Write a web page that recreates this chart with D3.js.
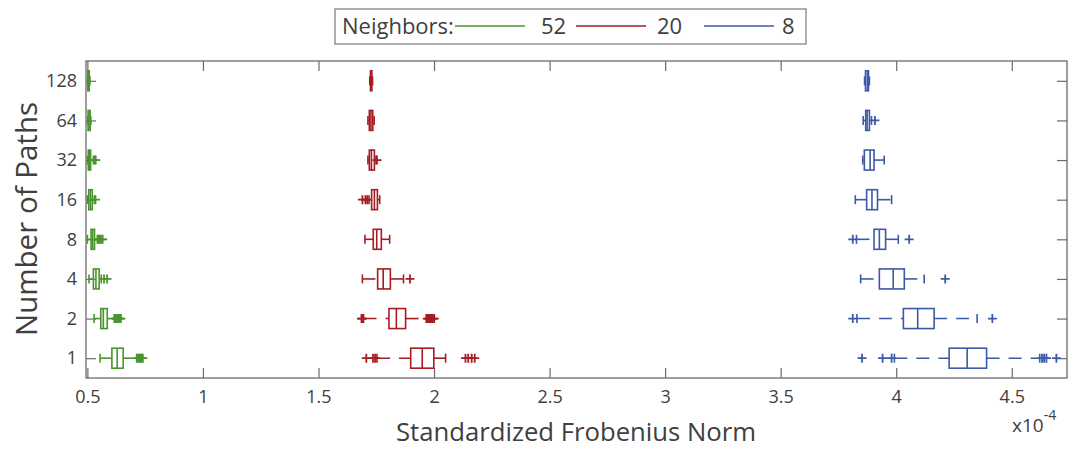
<!DOCTYPE html>
<html>
<head>
<meta charset="utf-8">
<script src="https://cdn.jsdelivr.net/npm/d3@7"></script>
<style>
  html, body { margin: 0; padding: 0; background: #fff; }
  svg { display: block; font-family: "Open Sans", "Noto Sans", sans-serif; }
  .axis text { fill: #404040; font-size: 18px; }
  .axis line { stroke: #6b6b6b; stroke-width: 1.2; }
</style>
</head>
<body>
<div id="chart"></div>
<script>
// Number of paths (rows, top to bottom)
const paths = [128, 64, 32, 16, 8, 4, 2, 1];
const neighbors = ["52", "20", "8"];
const xTicks = [0.5, 1, 1.5, 2, 2.5, 3, 3.5, 4, 4.5];

// [lower whisker, q1, median, q3, upper whisker] per row (x1e-4)
const stats52 = [
  [0.501, 0.502, 0.505, 0.508, 0.511],
  [0.501, 0.503, 0.507, 0.512, 0.515],
  [0.500, 0.504, 0.509, 0.514, 0.526],
  [0.500, 0.506, 0.513, 0.521, 0.530],
  [0.500, 0.516, 0.523, 0.531, 0.543],
  [0.507, 0.526, 0.537, 0.551, 0.560],
  [0.529, 0.558, 0.569, 0.586, 0.616],
  [0.555, 0.606, 0.629, 0.655, 0.713]
];
const outliers52 = [
  [], [], [0.532, 0.536], [0.535],
  [0.548, 0.553, 0.559, 0.566],
  [0.572, 0.585],
  [0.622, 0.626, 0.630, 0.634, 0.640, 0.645],
  [0.719, 0.724, 0.729, 0.734, 0.740]
];

const stats20 = [
  [1.722, 1.725, 1.728, 1.731, 1.734],
  [1.714, 1.720, 1.727, 1.735, 1.741],
  [1.714, 1.720, 1.729, 1.742, 1.749],
  [1.719, 1.730, 1.742, 1.755, 1.765],
  [1.701, 1.737, 1.752, 1.772, 1.808],
  [1.690, 1.756, 1.780, 1.811, 1.868],
  [1.695, 1.805, 1.837, 1.877, 1.966],
  [1.753, 1.899, 1.949, 1.999, 2.050]
];
const outliers20 = [
  [], [], [1.753],
  [1.690, 1.703, 1.711],
  [],
  [1.896],
  [1.686, 1.690, 1.971, 1.976, 1.981, 1.986, 1.990, 1.995, 2.001],
  [1.707, 1.736, 1.745, 2.136, 2.148, 2.163, 2.176]
];

const stats8 = [
  [3.863, 3.867, 3.875, 3.880, 3.884],
  [3.857, 3.868, 3.874, 3.884, 3.893],
  [3.855, 3.862, 3.887, 3.904, 3.948],
  [3.823, 3.872, 3.895, 3.919, 3.980],
  [3.828, 3.904, 3.927, 3.954, 4.009],
  [3.846, 3.927, 3.987, 4.035, 4.121],
  [3.830, 4.031, 4.093, 4.164, 4.350],
  [3.992, 4.229, 4.307, 4.391, 4.621]
];
const outliers8 = [
  [], [3.908], [], [],
  [3.812, 4.056],
  [4.212],
  [3.812, 4.416],
  [3.852, 3.941, 3.980, 4.631, 4.640, 4.650, 4.693]
];

const colors = ["#4a9430", "#a51d22", "#3b5aa6"];
const groups = [
  { name: neighbors[0], stats: stats52, out: outliers52, color: colors[0] },
  { name: neighbors[1], stats: stats20, out: outliers20, color: colors[1] },
  { name: neighbors[2], stats: stats8,  out: outliers8,  color: colors[2] }
];

const W = 1069, H = 449;
const L = 86, R = 1067, T = 61, B = 378;

const svg = d3.select("#chart").append("svg").attr("width", W).attr("height", H);

const x = d3.scaleLinear().domain([0.494, 4.739]).range([L, R]);
const y = d3.scalePoint().domain(paths).range([T, B]).padding(0.5);

// axes: ticks inside on all four sides
const ax = (g) => g.attr("font-family", null).attr("font-size", null)
  .call(s => s.select(".domain").remove());
svg.append("g").attr("class", "axis").attr("transform", `translate(0,${B})`)
  .call(d3.axisBottom(x).tickValues(xTicks).tickSize(-10).tickPadding(12).tickFormat(d3.format("")))
  .call(ax);
svg.append("g").attr("class", "axis").attr("transform", `translate(0,${T})`)
  .call(d3.axisTop(x).tickValues(xTicks).tickSize(-10).tickFormat(""))
  .call(ax);
svg.append("g").attr("class", "axis").attr("transform", `translate(${L},0)`)
  .call(d3.axisLeft(y).tickSize(-10).tickPadding(9))
  .call(ax);
svg.append("g").attr("class", "axis").attr("transform", `translate(${R},0)`)
  .call(d3.axisRight(y).tickSize(-10).tickFormat(""))
  .call(ax);

svg.append("rect").attr("x", L).attr("y", T).attr("width", R - L).attr("height", B - T)
  .attr("fill", "none").attr("stroke", "#6b6b6b").attr("stroke-width", 1.3);

// boxes
const BH = 10, CAP = 4.5, PL = 4.5;
const plot = svg.append("g");
groups.forEach(grp => {
  const g = plot.append("g").attr("stroke", grp.color).attr("fill", "none");
  paths.forEach((p, i) => {
    const [lw, q1, md, q3, hw] = grp.stats[i];
    const cy = y(p);
    g.append("line").attr("x1", x(lw)).attr("x2", x(q1)).attr("y1", cy).attr("y2", cy)
      .attr("stroke-width", 1.6).attr("stroke-dasharray", "13 9");
    g.append("line").attr("x1", x(q3)).attr("x2", x(hw)).attr("y1", cy).attr("y2", cy)
      .attr("stroke-width", 1.6).attr("stroke-dasharray", "13 9");
    [lw, hw].forEach(v => g.append("line").attr("x1", x(v)).attr("x2", x(v))
      .attr("y1", cy - CAP).attr("y2", cy + CAP).attr("stroke-width", 1.6));
    g.append("rect").attr("x", x(q1)).attr("y", cy - BH)
      .attr("width", Math.max(0.5, x(q3) - x(q1))).attr("height", BH * 2).attr("stroke-width", 1.6);
    g.append("line").attr("x1", x(md)).attr("x2", x(md)).attr("y1", cy - BH).attr("y2", cy + BH)
      .attr("stroke-width", 1.6);
    grp.out[i].forEach(v => {
      g.append("path")
        .attr("d", `M${x(v) - PL},${cy}H${x(v) + PL}M${x(v)},${cy - PL}V${cy + PL}`)
        .attr("stroke-width", 1.8);
    });
  });
});

// axis labels
svg.append("text").attr("x", 576).attr("y", 441).attr("text-anchor", "middle")
  .attr("font-size", 25.7).attr("fill", "#404040").text("Standardized Frobenius Norm");
svg.append("text").attr("transform", "translate(37,219) rotate(-90)").attr("text-anchor", "middle")
  .attr("font-size", 29.5).attr("fill", "#404040").text("Number of Paths");
const ex = svg.append("text").attr("x", 1012).attr("y", 432).attr("font-size", 19).attr("fill", "#404040");
ex.append("tspan").text("x10");
ex.append("tspan").attr("dy", -12).attr("font-size", 14).text("-4");

// legend
const lg = svg.append("g");
lg.append("rect").attr("x", 335).attr("y", 9).attr("width", 471).attr("height", 35)
  .attr("fill", "#fff").attr("stroke", "#7a7a7a").attr("stroke-width", 1.2);
lg.append("text").attr("x", 342).attr("y", 34).attr("font-size", 22).attr("fill", "#404040").text("Neighbors:");
const lineX = [455, 576, 704];
const labX = [541, 657, 782];
groups.forEach((grp, i) => {
  lg.append("line").attr("x1", lineX[i]).attr("x2", lineX[i] + 70).attr("y1", 26).attr("y2", 26)
    .attr("stroke", grp.color).attr("stroke-width", 1.6);
  lg.append("text").attr("x", labX[i]).attr("y", 34).attr("font-size", 22).attr("fill", "#404040").text(grp.name);
});
</script>
</body>
</html>
